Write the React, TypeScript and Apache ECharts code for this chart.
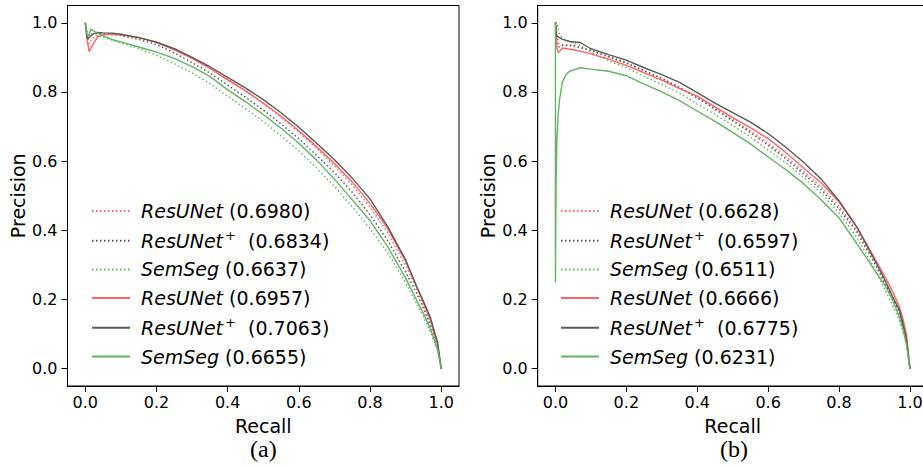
import React, { useEffect, useRef } from "react";
import * as echarts from "echarts";

type P = [number, number][];

// ---------- Panel (a) ----------
const A_RES_DOT: P = [[0,1],[0.005,0.96],[0.01,0.94],[0.02,0.955],[0.04,0.965],[0.07,0.968],[0.1,0.965],[0.15,0.958],[0.2,0.945],[0.25,0.925],[0.3,0.9],[0.35,0.872],[0.4,0.838],[0.45,0.805],[0.5,0.767],[0.55,0.727],[0.6,0.684],[0.65,0.637],[0.7,0.586],[0.75,0.531],[0.8,0.467],[0.85,0.393],[0.9,0.298],[0.93,0.233],[0.95,0.184],[0.97,0.134],[0.99,0.07],[1,0]];
const A_RESP_DOT: P = [[0,1],[0.005,0.97],[0.01,0.965],[0.03,0.97],[0.07,0.968],[0.1,0.963],[0.15,0.952],[0.2,0.937],[0.25,0.913],[0.3,0.885],[0.35,0.855],[0.4,0.82],[0.45,0.785],[0.5,0.748],[0.55,0.708],[0.6,0.665],[0.65,0.617],[0.7,0.567],[0.75,0.51],[0.8,0.445],[0.85,0.37],[0.9,0.28],[0.93,0.22],[0.95,0.175],[0.97,0.125],[0.99,0.065],[1,0]];
const A_SEM_DOT: P = [[0,1],[0.005,0.97],[0.01,0.965],[0.02,0.968],[0.05,0.958],[0.1,0.942],[0.15,0.925],[0.2,0.906],[0.25,0.882],[0.3,0.855],[0.35,0.824],[0.4,0.788],[0.45,0.752],[0.5,0.715],[0.55,0.673],[0.6,0.63],[0.65,0.58],[0.7,0.527],[0.75,0.468],[0.8,0.405],[0.85,0.335],[0.9,0.248],[0.93,0.19],[0.95,0.15],[0.97,0.105],[0.99,0.052],[1,0]];
const A_RES: P = [[0,1],[0.005,0.95],[0.011,0.917],[0.02,0.935],[0.035,0.96],[0.05,0.965],[0.075,0.967],[0.1,0.965],[0.15,0.957],[0.2,0.943],[0.25,0.922],[0.3,0.897],[0.35,0.868],[0.4,0.835],[0.45,0.803],[0.5,0.768],[0.55,0.73],[0.6,0.688],[0.65,0.642],[0.7,0.593],[0.75,0.54],[0.8,0.478],[0.85,0.405],[0.9,0.31],[0.93,0.24],[0.95,0.19],[0.97,0.14],[0.99,0.07],[1,0]];
const A_RESP: P = [[0,1],[0.004,0.965],[0.007,0.953],[0.015,0.962],[0.03,0.972],[0.05,0.971],[0.077,0.97],[0.1,0.967],[0.15,0.957],[0.2,0.944],[0.25,0.925],[0.3,0.9],[0.35,0.873],[0.4,0.842],[0.45,0.812],[0.5,0.778],[0.55,0.74],[0.6,0.698],[0.65,0.652],[0.7,0.604],[0.75,0.551],[0.8,0.491],[0.85,0.41],[0.9,0.315],[0.93,0.24],[0.95,0.195],[0.97,0.147],[0.99,0.075],[1,0]];
const A_SEM: P = [[0,1],[0.005,0.965],[0.01,0.962],[0.016,0.982],[0.03,0.972],[0.05,0.962],[0.077,0.951],[0.1,0.945],[0.15,0.93],[0.2,0.915],[0.25,0.897],[0.3,0.873],[0.35,0.845],[0.4,0.806],[0.45,0.772],[0.5,0.735],[0.55,0.695],[0.6,0.652],[0.65,0.603],[0.7,0.548],[0.75,0.488],[0.8,0.428],[0.85,0.352],[0.9,0.262],[0.93,0.2],[0.95,0.16],[0.97,0.115],[0.99,0.055],[1,0]];

// ---------- Panel (b) ----------
const B_RES_DOT: P = [[0,1],[0.005,0.96],[0.01,0.94],[0.03,0.935],[0.07,0.928],[0.1,0.92],[0.15,0.9],[0.2,0.883],[0.25,0.86],[0.3,0.837],[0.35,0.812],[0.4,0.785],[0.45,0.753],[0.5,0.72],[0.55,0.688],[0.6,0.652],[0.65,0.613],[0.7,0.57],[0.75,0.525],[0.8,0.47],[0.85,0.4],[0.9,0.31],[0.95,0.21],[0.97,0.165],[0.99,0.09],[1,0]];
const B_RESP_DOT: P = [[0,1],[0.005,0.94],[0.01,0.93],[0.02,0.935],[0.05,0.935],[0.1,0.92],[0.15,0.903],[0.2,0.885],[0.25,0.862],[0.3,0.84],[0.35,0.813],[0.4,0.783],[0.45,0.75],[0.5,0.716],[0.55,0.683],[0.6,0.646],[0.65,0.607],[0.7,0.563],[0.75,0.517],[0.8,0.462],[0.85,0.395],[0.9,0.305],[0.95,0.205],[0.97,0.16],[0.99,0.085],[1,0]];
const B_SEM_DOT: P = [[0,1],[0.005,1.0],[0.01,0.97],[0.02,0.955],[0.04,0.945],[0.07,0.935],[0.1,0.915],[0.15,0.89],[0.2,0.87],[0.25,0.845],[0.3,0.822],[0.35,0.797],[0.4,0.765],[0.45,0.735],[0.5,0.703],[0.55,0.67],[0.6,0.632],[0.65,0.595],[0.7,0.553],[0.75,0.507],[0.8,0.45],[0.85,0.38],[0.9,0.29],[0.95,0.185],[0.97,0.14],[0.99,0.075],[1,0]];
const B_RES: P = [[0,1],[0.004,0.93],[0.008,0.913],[0.02,0.927],[0.05,0.922],[0.09,0.913],[0.15,0.895],[0.2,0.877],[0.25,0.855],[0.3,0.834],[0.35,0.81],[0.4,0.788],[0.45,0.757],[0.5,0.726],[0.55,0.697],[0.6,0.665],[0.65,0.625],[0.7,0.58],[0.75,0.537],[0.8,0.482],[0.85,0.41],[0.9,0.32],[0.93,0.265],[0.95,0.225],[0.97,0.18],[0.98,0.145],[0.99,0.1],[1,0]];
const B_RESP: P = [[0,1],[0.003,0.96],[0.007,0.96],[0.02,0.952],[0.04,0.946],[0.07,0.943],[0.1,0.925],[0.15,0.908],[0.2,0.892],[0.25,0.87],[0.3,0.85],[0.35,0.828],[0.4,0.798],[0.45,0.768],[0.5,0.74],[0.55,0.713],[0.6,0.68],[0.65,0.64],[0.7,0.597],[0.75,0.548],[0.8,0.485],[0.85,0.41],[0.9,0.315],[0.93,0.255],[0.95,0.21],[0.97,0.17],[0.98,0.13],[0.99,0.085],[1,0]];
const B_SEM: P = [[0,1],[0,0.25],[0.002,0.55],[0.004,0.66],[0.008,0.74],[0.012,0.78],[0.02,0.83],[0.03,0.85],[0.04,0.86],[0.07,0.87],[0.1,0.866],[0.15,0.86],[0.2,0.847],[0.25,0.823],[0.3,0.8],[0.35,0.775],[0.4,0.745],[0.45,0.715],[0.5,0.683],[0.55,0.65],[0.6,0.612],[0.65,0.575],[0.7,0.535],[0.75,0.488],[0.8,0.436],[0.85,0.362],[0.9,0.285],[0.93,0.24],[0.95,0.2],[0.97,0.15],[0.98,0.115],[0.99,0.07],[1,0]];

const NAMES_A = ["a1", "a2", "a3", "a4", "a5", "a6"];
const NAMES_B = ["b1", "b2", "b3", "b4", "b5", "b6"];
const MODELS = ["ResUNet", "ResUNet+", "SemSeg", "ResUNet", "ResUNet+", "SemSeg"];
const SCORES_A = ["0.6980", "0.6834", "0.6637", "0.6957", "0.7063", "0.6655"];
const SCORES_B = ["0.6628", "0.6597", "0.6511", "0.6666", "0.6775", "0.6231"];
const DATA_A = [A_RES_DOT, A_RESP_DOT, A_SEM_DOT, A_RES, A_RESP, A_SEM];
const DATA_B = [B_RES_DOT, B_RESP_DOT, B_SEM_DOT, B_RES, B_RESP, B_SEM];
const TICKS = [0, 0.2, 0.4, 0.6, 0.8, 1.0];

const COLORS = ["#ff6363", "#555555", "#62b562", "#ff6363", "#5a5a5a", "#62b562"];
const FONT = "DejaVu Sans";

function label(model: string, score: string) {
  if (model.endsWith("+")) return `{i|${model.slice(0, -1)}}{s|+}{n|  (${score})}`;
  return `{i|${model}}{n| (${score})}`;
}

export default function App() {
  const ref = useRef<HTMLDivElement>(null);
  useEffect(() => {
    if (!ref.current) return;
    const chart = echarts.init(ref.current, undefined, { renderer: "svg" });
    const labelMap: Record<string, string> = {};
    NAMES_A.forEach((n, i) => (labelMap[n] = label(MODELS[i], SCORES_A[i])));
    NAMES_B.forEach((n, i) => (labelMap[n] = label(MODELS[i], SCORES_B[i])));

    const mkX = (idx: number) => ({
      type: "value", gridIndex: idx, min: -0.05, max: 1.05,
      name: "Recall", nameLocation: "middle", nameGap: 30,
      nameTextStyle: { fontSize: 19, fontFamily: FONT, color: "#000" },
      axisLine: { show: true, onZero: false, lineStyle: { color: "#000", width: 1 } },
      axisTick: { show: true, length: 6, lineStyle: { color: "#000" }, customValues: TICKS },
      axisLabel: { fontSize: 16, fontFamily: FONT, color: "#000", margin: 8, customValues: TICKS, formatter: (v: number) => v.toFixed(1) },
      splitLine: { show: false },
    });
    const mkY = (idx: number) => ({
      type: "value", gridIndex: idx, min: -0.05, max: 1.05,
      name: "Precision", nameLocation: "middle", nameGap: 40,
      nameTextStyle: { fontSize: 19, fontFamily: FONT, color: "#000" },
      axisLine: { show: true, onZero: false, lineStyle: { color: "#000", width: 1 } },
      axisTick: { show: true, length: 6, lineStyle: { color: "#000" }, customValues: TICKS },
      axisLabel: { fontSize: 16, fontFamily: FONT, color: "#000", margin: 10, customValues: TICKS, formatter: (v: number) => v.toFixed(1) },
      splitLine: { show: false },
    });
    const mkSeries = (names: string[], data: P[], idx: number) =>
      names.map((n, i) => ({
        name: n, type: "line", xAxisIndex: idx, yAxisIndex: idx,
        data: data[i], showSymbol: false, symbol: "none",
        lineStyle: { color: COLORS[i], width: 1.4, type: i < 3 ? [1.5, 2.5] : "solid" },
        itemStyle: { color: COLORS[i] },
        z: i < 3 ? 2 : 3,
      }));
    const mkLegend = (names: string[], left: number) => ({
      show: true, orient: "vertical", left, top: 195.5, itemWidth: 38, itemHeight: 14, itemGap: 7.7,
      data: names, selectedMode: false,
      itemStyle: { opacity: 0 },
      formatter: (n: string) => labelMap[n],
      textStyle: {
        fontSize: 19, fontFamily: FONT, color: "#000", lineHeight: 21, padding: [0, 0, 0, 6],
        rich: {
          i: { fontStyle: "italic", fontSize: 19, fontFamily: FONT, color: "#000", lineHeight: 21 },
          n: { fontSize: 19, fontFamily: FONT, color: "#000", lineHeight: 21 },
          s: { fontSize: 13, fontFamily: FONT, color: "#000", padding: [0, 0, 10, 2] },
        },
      },
    });

    chart.setOption({
      animation: false,
      backgroundColor: "#fff",
      grid: [
        { left: 67.5, top: 5.5, width: 391.5, height: 380.5, show: true, borderColor: "#000", borderWidth: 1, containLabel: false },
        { left: 537.7, top: 5.5, width: 390, height: 380.5, show: true, borderColor: "#000", borderWidth: 1, containLabel: false },
      ],
      xAxis: [mkX(0), mkX(1)],
      yAxis: [mkY(0), mkY(1)],
      legend: [mkLegend(NAMES_A, 86), mkLegend(NAMES_B, 555)],
      series: [...mkSeries(NAMES_A, DATA_A, 0), ...mkSeries(NAMES_B, DATA_B, 1)],
      graphic: [
        { type: "text", left: 250, top: 437, style: { text: "(a)", fontSize: 24, fontFamily: "Liberation Serif", fill: "#000" } },
        { type: "text", left: 720, top: 437, style: { text: "(b)", fontSize: 24, fontFamily: "Liberation Serif", fill: "#000" } },
      ],
    });
    return () => chart.dispose();
  }, []);
  return (
    <div style={{ position: "fixed", left: 0, top: 0, width: 923, height: 468, overflow: "hidden", background: "#fff" }}>
      <div ref={ref} style={{ width: 945, height: 468 }} />
    </div>
  );
}
